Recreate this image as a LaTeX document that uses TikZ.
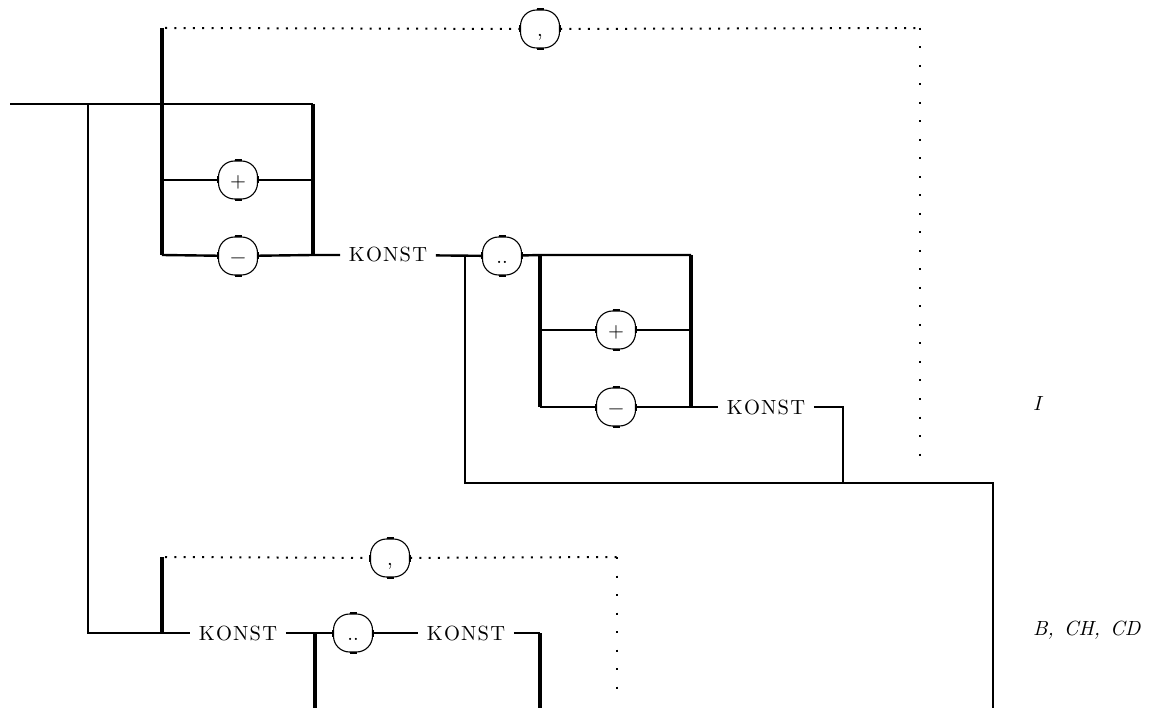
\documentclass[tikz,border=0pt]{standalone}
\usepackage{fontspec}
\setmainfont{lmroman10}[Extension=.otf, UprightFont=*-regular, ItalicFont=*-italic, BoldFont=*-bold]
\newcommand\konst{K\kern1.2pt O\kern1.2pt N\kern1.2pt S\kern1.2pt T}
\begin{document}
\begin{tikzpicture}[x=1pt,y=-1pt,
  line/.style={line width=2.4pt},
  bar/.style={line width=3.4pt},
  dots/.style={line width=2pt, dash pattern=on 2pt off 7.3pt},
  vdots/.style={line width=2pt, dash pattern=on 2pt off 16.5pt},
  term/.style={draw, line width=1.1pt, rounded corners=16pt, minimum width=39pt, minimum height=38pt, inner sep=0pt, text height=15pt, text depth=0pt, font=\fontsize{20.5}{24}\selectfont, fill=white},
  word/.style={inner xsep=8.5pt, inner ysep=2pt, font=\fontsize{20.5}{24}\selectfont},
  tick/.style={line width=2pt},
  lab/.style={anchor=base west, inner sep=0pt, font=\fontsize{20.5}{24}\selectfont\itshape}]
\useasboundingbox (0,0) rectangle (1151,708);
% ---------- top part ----------
\coordinate (start) at (10,104);
\coordinate (j1) at (88,104);
\coordinate (a1) at (162,104);
\coordinate (b1) at (313,104);
\coordinate (a2) at (162,180);
\coordinate (b2) at (313,180);
\coordinate (a3) at (162,255);
\coordinate (b3) at (313,255);
\coordinate (lt) at (162,28);
\coordinate (lts) at (165,28);
\coordinate (rt) at (920,28);
\coordinate (rb) at (920,466);
\node[term] (c1) at (540,29) {,};
\node[term] (p1) at (238,180) {+};
\node[term] (m1) at (238,256) {−};
\node[word] (k1) at (388,255) {\konst};
\node[term] (d1) at (502,256) {..};
\coordinate (s1) at (465,255);
\coordinate (e1) at (540,255);
\coordinate (f1) at (691,255);
\coordinate (e2) at (540,330);
\coordinate (f2) at (691,330);
\coordinate (e3) at (540,407);
\coordinate (f3) at (691,407);
\node[term] (p2) at (616,330) {+};
\node[term] (m2) at (616,407) {−};
\node[word] (k2) at (766,407) {\konst};
\coordinate (g1) at (843,407);
\coordinate (g2) at (843,483);
\coordinate (s2) at (465,483);
\coordinate (out) at (993,483);
\coordinate (outb) at (993,708);

\draw[line] (start) -- (b1);
\draw[line] (a2) -- (p1) -- (b2);
\draw[line] (a3) -- (m1) -- (b3) -- (k1) -- (d1) -- (e1) -- (f1);
\draw[bar] (lt) -- (a3);
\draw[bar] (b1) -- (b3);
\draw[line] (s1) -- (s2) -- (out) -- (outb);
\draw[line] (e2) -- (p2) -- (f2);
\draw[line] (e3) -- (m2) -- (f3) -- (k2) -- (g1) -- (g2);
\draw[bar] (e1) -- (e3);
\draw[bar] (f1) -- (f3);
\draw[dots] (lts) -- (c1);
\draw[dots] (c1) -- (rt);
\draw[vdots] (rt) -- (rb);
\node[lab] (lI) at (1033,410) {I};

% ---------- bottom part ----------
\coordinate (j2) at (88,633);
\coordinate (h0) at (162,557);
\coordinate (h0s) at (165,557);
\coordinate (h1) at (162,633);
\node[word] (k3) at (238,633) {\konst};
\node[term] (d2) at (353,633) {..};
\node[word] (k4) at (466,633) {\konst};
\coordinate (q1) at (540,633);
\coordinate (q2) at (540,708);
\coordinate (r1) at (315,633);
\coordinate (r2) at (315,708);
\node[term] (c2) at (390,558) {,};
\coordinate (rt2) at (617,557);
\coordinate (rb2) at (617,692);

\draw[line] (j1) -- (j2) -- (k3) -- (d2) -- (k4) -- (q1);
\draw[bar] (h0) -- (h1);
\draw[bar] (r1) -- (r2);
\draw[bar] (q1) -- (q2);
\draw[dots] (h0s) -- (c2);
\draw[dots] (c2) -- (rt2);
\draw[vdots] (rt2) -- (rb2);
\node[lab] (lB) at (1033,635) {B,\hspace{10pt}CH,\hspace{10pt}CD};

% ---------- ticks on the round boxes ----------
\foreach \n in {c1,p1,m1,d1,p2,m2,c2,d2}{
  \draw[tick] ([xshift=-3.5pt]\n.north) -- ([xshift=3.5pt]\n.north);
  \draw[tick] ([xshift=-3.5pt]\n.south) -- ([xshift=3.5pt]\n.south);
  \draw[tick] ([yshift=-3.5pt]\n.west) -- ([yshift=3.5pt]\n.west);
  \draw[tick] ([yshift=-3.5pt]\n.east) -- ([yshift=3.5pt]\n.east);
}
\end{tikzpicture}
\end{document}
